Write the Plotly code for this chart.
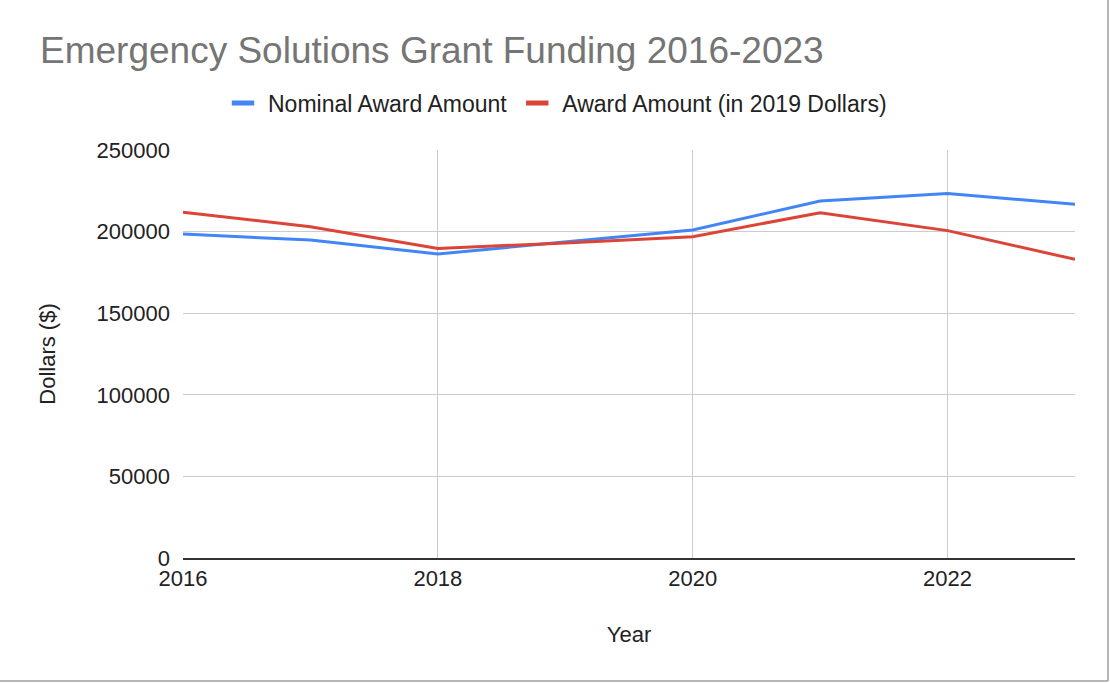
import plotly.graph_objects as go

years = [2016, 2017, 2018, 2019, 2020, 2021, 2022, 2023]
nominal = [198500, 194800, 186300, 193800, 201000, 218700, 223400, 216700]
real_2019 = [211800, 203000, 189700, 193000, 196900, 211600, 200600, 183000]
series_names = ["Nominal Award Amount", "Award Amount (in 2019 Dollars)"]
colors = ["#4285F4", "#DB4437"]

FONT = "Arial, Liberation Sans, sans-serif"

fig = go.Figure()
for vals, name, c in zip([nominal, real_2019], series_names, colors):
    fig.add_trace(go.Scatter(x=years, y=vals, mode="lines", name=name, showlegend=False,
                             line=dict(color=c, width=3)))
# legend entries with short thick bar symbols
for name, c in zip(series_names, colors):
    fig.add_trace(go.Scatter(x=[None], y=[None], mode="markers", name=name,
                             marker=dict(symbol="line-ew", size=16, color=c,
                                         line=dict(width=6, color=c))))

L, R, T, B = 183, 35, 150, 125
W, H = 1110, 683
pw, ph = W - L - R, H - T - B

fig.update_layout(
    width=W, height=H,
    margin=dict(l=L, r=R, t=T, b=B),
    paper_bgcolor="white", plot_bgcolor="white",
    font=dict(family=FONT, color="#222222", size=22),
    title=dict(text="Emergency Solutions Grant Funding 2016-2023", x=40 / W, xanchor="left",
               y=1 - 50 / H, yanchor="middle",
               font=dict(family=FONT, size=37, color="#757575")),
    legend=dict(orientation="h", x=0.5, xref="container", xanchor="center",
                y=1 - 103 / H, yref="container", yanchor="middle",
                font=dict(family=FONT, size=23, color="#222222"), itemwidth=40),
    showlegend=True,
    xaxis=dict(range=[2016, 2023], tickvals=[2016, 2018, 2020, 2022], showgrid=True,
               gridcolor="#cccccc", gridwidth=1, showline=True, linecolor="#333333", linewidth=2,
               ticks="", zeroline=False,
               title=dict(text="Year", font=dict(family=FONT, size=22, color="#222222"), standoff=36)),
    yaxis=dict(range=[0, 250000], tickvals=[0, 50000, 100000, 150000, 200000, 250000],
               ticktext=["0", "50000", "100000", "150000", "200000", "250000"],
               showgrid=True, gridcolor="#cccccc", gridwidth=1, zeroline=False, showline=False,
               ticks="", ticklabelstandoff=12,
               title=dict(text="Dollars ($)", font=dict(family=FONT, size=22, color="#222222"), standoff=34)),
)

# outer frame (right and bottom edges)
yb = -(H - 2 - (H - B)) / ph
xr = (W - 2 - L) / pw
fig.add_shape(type="line", xref="paper", yref="paper",
              x0=-L / pw, x1=xr, y0=yb, y1=yb, line=dict(color="#9e9e9e", width=1.5))
fig.add_shape(type="line", xref="paper", yref="paper",
              x0=xr, x1=xr, y0=yb, y1=(H - B) / ph, line=dict(color="#9e9e9e", width=1.5))

fig.write_html("out.html")
